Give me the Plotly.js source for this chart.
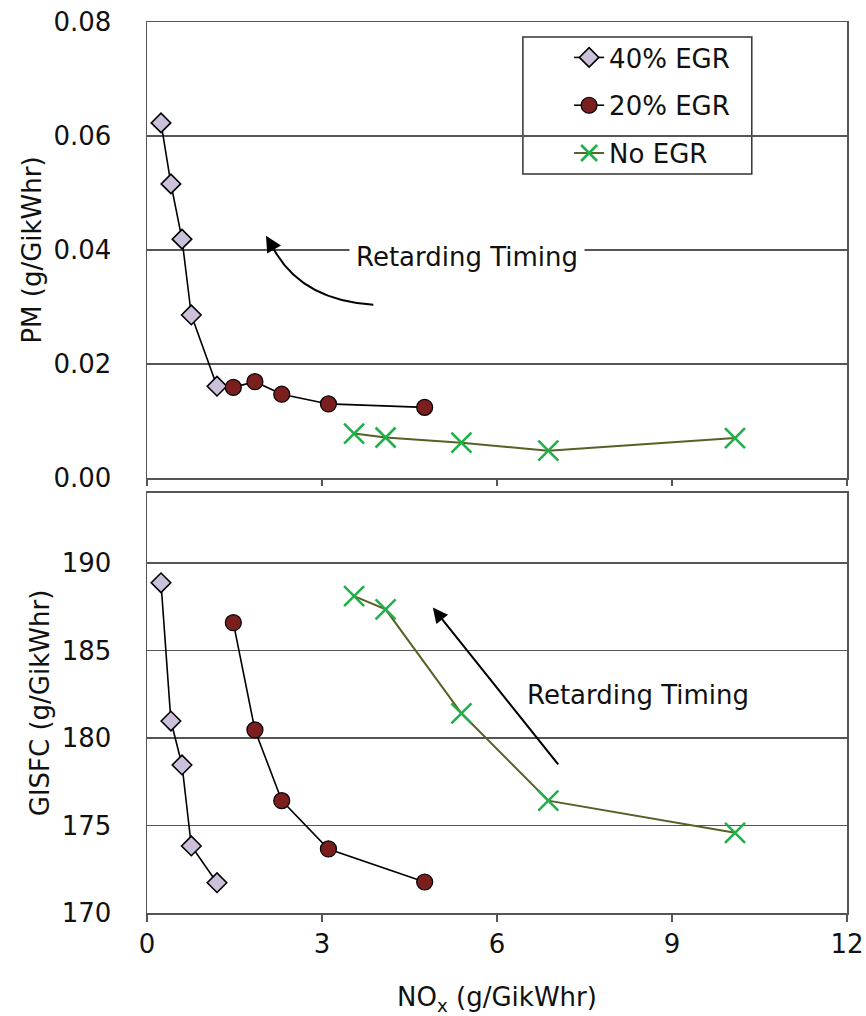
<!DOCTYPE html>
<html>
<head>
<meta charset="utf-8">
<script src="https://cdn.plot.ly/plotly-3.0.1.min.js"></script>
<style>html,body{margin:0;padding:0;background:#fff;}#chart{width:866px;height:1016px;}</style>
</head>
<body>
<div id="chart"></div>
<script>
// NOx (g/GikWhr)
const nox40 = [0.24, 0.41, 0.60, 0.76, 1.20];
const nox20 = [1.48, 1.85, 2.31, 3.11, 4.76];
const noxNo = [3.55, 4.09, 5.39, 6.88, 10.08];
// PM (g/GikWhr)
const pm40 = [0.0623, 0.0516, 0.0419, 0.0286, 0.0161];
const pm20 = [0.0159, 0.0169, 0.0147, 0.0130, 0.0124];
const pmNo = [0.0078, 0.0071, 0.0062, 0.0048, 0.0070];
// GISFC (g/GikWhr)
const sfc40 = [188.87, 180.97, 178.46, 173.83, 171.73];
const sfc20 = [186.59, 180.46, 176.42, 173.66, 171.77];
const sfcNo = [188.11, 187.35, 181.41, 176.42, 174.58];

const names = ['40% EGR', '20% EGR', 'No EGR'];
const xTicks = [0, 3, 6, 9, 12];
const pmTicks = [0, 0.02, 0.04, 0.06, 0.08];
const sfcTicks = [170, 175, 180, 185, 190];
const annText = 'Retarding Timing';

const FONT = 'DejaVu Sans, Liberation Sans, Arial, sans-serif';
const GRID = '#555555';
const FS = 26;

const st40 = {mode: 'lines+markers', line: {color: '#000', width: 1.6},
  marker: {symbol: 'diamond', size: 15, color: '#ccc0da', line: {color: '#000', width: 1.6}}};
const st20 = {mode: 'lines+markers', line: {color: '#000', width: 1.6},
  marker: {symbol: 'circle', size: 16, color: '#7a1e1e', line: {color: '#000', width: 1.2}}};
const stNo = {mode: 'lines+markers', line: {color: '#556125', width: 2},
  marker: {symbol: 'x-thin', size: 20, color: '#1fb04a', line: {color: '#1fb04a', width: 2.6}}};

const traces = [
  Object.assign({x: nox40, y: pm40, name: names[0], legendgroup: 'a', xaxis: 'x', yaxis: 'y', cliponaxis: false}, st40),
  Object.assign({x: nox20, y: pm20, name: names[1], legendgroup: 'b', xaxis: 'x', yaxis: 'y', cliponaxis: false}, st20),
  Object.assign({x: noxNo, y: pmNo, name: names[2], legendgroup: 'c', xaxis: 'x', yaxis: 'y', cliponaxis: false}, stNo),
  Object.assign({x: nox40, y: sfc40, name: names[0], showlegend: false, xaxis: 'x2', yaxis: 'y2', cliponaxis: false}, st40),
  Object.assign({x: nox20, y: sfc20, name: names[1], showlegend: false, xaxis: 'x2', yaxis: 'y2', cliponaxis: false}, st20),
  Object.assign({x: noxNo, y: sfcNo, name: names[2], showlegend: false, xaxis: 'x2', yaxis: 'y2', cliponaxis: false}, stNo)
];

const axBase = {showline: true, linecolor: GRID, linewidth: 1.5, mirror: true, zeroline: false,
  tickfont: {family: FONT, size: FS, color: '#111'}};

const layout = {
  width: 866, height: 1016,
  margin: {l: 147, r: 19, t: 22, b: 103},
  paper_bgcolor: '#fff', plot_bgcolor: '#fff',
  font: {family: FONT, color: '#111'},
  showlegend: true,
  legend: {x: 0.603, y: 0.9865, xanchor: 'left', yanchor: 'top', bgcolor: 'rgba(0,0,0,0)',
    borderwidth: 0, font: {family: FONT, size: FS, color: '#111'},
    traceorder: 'grouped', tracegroupgap: 11},
  xaxis: Object.assign({}, axBase, {domain: [0, 1], anchor: 'y', range: [0, 12], tickvals: xTicks,
    showticklabels: false, ticks: 'outside', ticklen: 6, tickcolor: GRID, tickwidth: 1.5, showgrid: false}),
  yaxis: Object.assign({}, axBase, {domain: [0.4882, 1], anchor: 'x', range: [0, 0.08], tickvals: pmTicks,
    tickformat: '.2f', ticks: '', ticklabelstandoff: 29, showgrid: true, gridcolor: GRID, gridwidth: 1.5,
    title: {text: 'PM (g/GikWhr)', font: {family: FONT, size: FS, color: '#111'}, standoff: 4}}),
  xaxis2: Object.assign({}, axBase, {domain: [0, 1], anchor: 'y2', range: [0, 12], tickvals: xTicks,
    ticks: 'outside', ticklen: 7, tickcolor: GRID, tickwidth: 1.5, showgrid: false,
    title: {text: 'NO<sub>x</sub> (g/GikWhr)', font: {family: FONT, size: FS, color: '#111'}, standoff: 30}}),
  yaxis2: Object.assign({}, axBase, {domain: [0, 0.4714], anchor: 'x2', range: [170, 194], tickvals: sfcTicks,
    ticks: '', ticklabelstandoff: 29, showgrid: true, gridcolor: GRID, gridwidth: 1.5,
    title: {text: 'GISFC (g/GikWhr)', font: {family: FONT, size: FS, color: '#111'}, standoff: 4}}),
  shapes: [
    {type: 'rect', xref: 'paper', yref: 'paper', x0: 0.537, x1: 0.864, y0: 0.8294, y1: 0.9832,
      layer: 'between', fillcolor: '#fff', line: {color: '#333', width: 1.5}},
    {type: 'path', xref: 'x', yref: 'y', path: 'M 3.88 0.0304 Q 2.61 0.0312 2.14 0.0408',
      line: {color: '#000', width: 2}}
  ],
  annotations: [
    {xref: 'x', yref: 'y', x: 5.49, y: 0.0388, text: annText, showarrow: false,
      bgcolor: '#fff', borderpad: 6, font: {family: FONT, size: FS, color: '#111'}},
    {xref: 'x', yref: 'y', x: 2.04, y: 0.0425, axref: 'x', ayref: 'y', ax: 2.16, ay: 0.0404,
      text: '', showarrow: true, arrowhead: 2, arrowsize: 1.6, arrowwidth: 2, arrowcolor: '#000'},
    {xref: 'x2', yref: 'y2', x: 8.41, y: 182.46, text: annText, showarrow: false,
      font: {family: FONT, size: FS, color: '#111'}},
    {xref: 'x2', yref: 'y2', x: 4.90, y: 187.45, axref: 'x2', ayref: 'y2', ax: 7.07, ay: 178.4,
      text: '', showarrow: true, arrowhead: 2, arrowsize: 1.5, arrowwidth: 2, arrowcolor: '#000'}
  ]
};

Plotly.newPlot('chart', traces, layout, {displayModeBar: false, staticPlot: true});
</script>
</body>
</html>
